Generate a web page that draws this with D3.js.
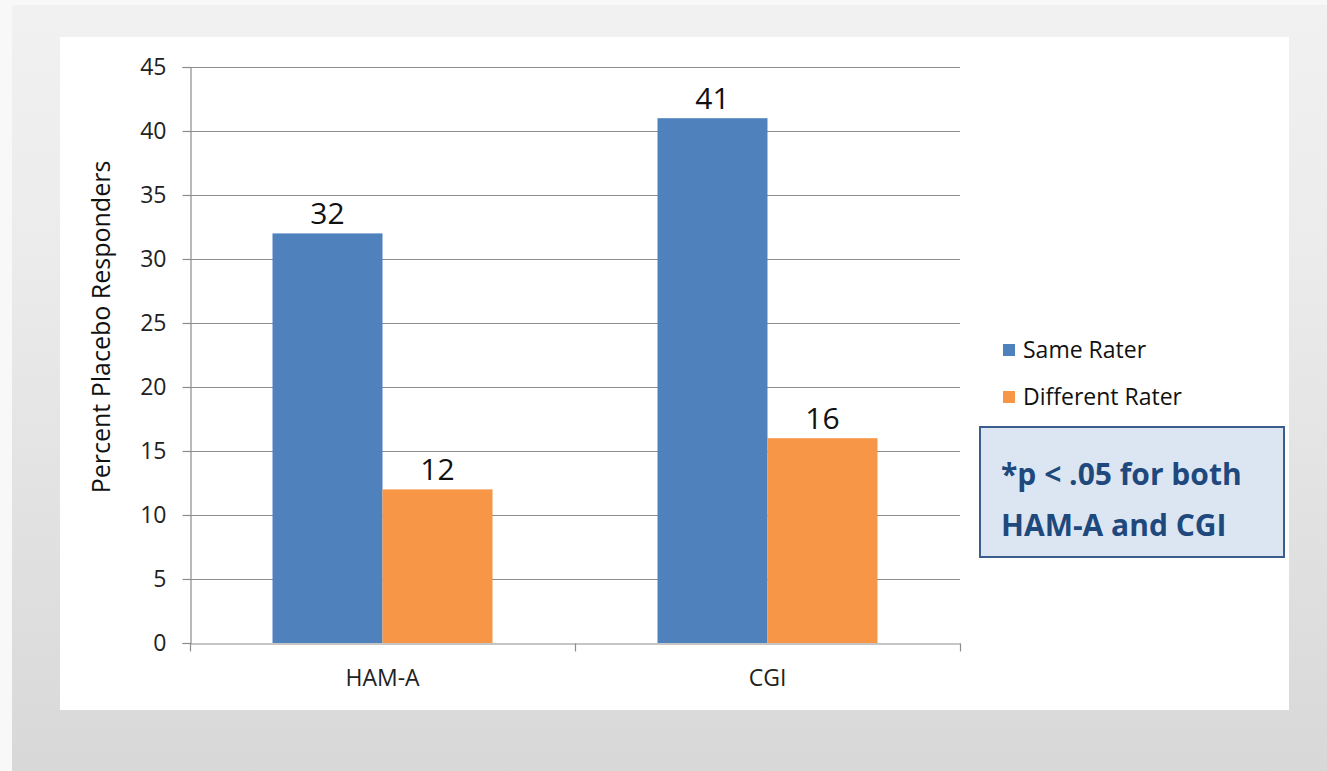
<!DOCTYPE html>
<html>
<head>
<meta charset="utf-8">
<script src="https://cdn.jsdelivr.net/npm/d3@7"></script>
<style>
  html, body { margin: 0; padding: 0; background: #f8f8f8; }
  svg { display: block; }
  text { font-family: "Open Sans", Lato, sans-serif; }
</style>
</head>
<body>
<script>
// Chart data
const categories = ["HAM-A", "CGI"];
const seriesNames = ["Same Rater", "Different Rater"];
const sameRater = [32, 41];
const differentRater = [12, 16];
const yTicks = [0, 5, 10, 15, 20, 25, 30, 35, 40, 45];
const yTitle = "Percent Placebo Responders";
const noteLines = ["*p < .05 for both", "HAM-A and CGI"];

const colors = ["#4f81bd", "#f79646"];
const W = 1327, H = 771;
const FONT = "'Open Sans', Lato, sans-serif";

const svg = d3.select("body").append("svg")
  .attr("width", W).attr("height", H);

// Slide background with a soft vertical gradient
const defs = svg.append("defs");
const grad = defs.append("linearGradient")
  .attr("id", "bg").attr("x1", 0).attr("y1", 0).attr("x2", 0).attr("y2", 1);
grad.append("stop").attr("offset", "0%").attr("stop-color", "#f1f1f1");
grad.append("stop").attr("offset", "30%").attr("stop-color", "#ececec");
grad.append("stop").attr("offset", "100%").attr("stop-color", "#d8d8d8");

svg.append("rect").attr("x", 12).attr("y", 5)
  .attr("width", W - 12).attr("height", H - 5)
  .attr("fill", "url(#bg)");

// White chart panel
svg.append("rect").attr("x", 60).attr("y", 37)
  .attr("width", 1229).attr("height", 673)
  .attr("fill", "#ffffff");

// Plot area
const plot = { left: 190, right: 960, top: 67, bottom: 643 };

const x0 = d3.scaleBand()
  .domain(categories)
  .range([plot.left, plot.right])
  .paddingInner(0).paddingOuter(0);

const x1 = d3.scaleBand()
  .domain(seriesNames)
  .range([0, x0.bandwidth()])
  .paddingInner(0)
  .paddingOuter(0.75);

const y = d3.scaleLinear()
  .domain([0, 45])
  .range([plot.bottom, plot.top]);

const g = svg.append("g");

// Horizontal gridlines
g.append("g").selectAll("line")
  .data(yTicks.filter(d => d > 0))
  .join("line")
  .attr("x1", plot.left).attr("x2", plot.right)
  .attr("y1", d => Math.round(y(d)) + 0.5)
  .attr("y2", d => Math.round(y(d)) + 0.5)
  .attr("stroke", "#8c8c8c").attr("stroke-width", 1.2);

// Y axis
const yAxis = d3.axisLeft(y).tickValues(yTicks).tickSize(8).tickPadding(16)
  .tickFormat(d3.format("d"));
const yg = g.append("g")
  .attr("transform", `translate(${plot.left + 0.5},0)`)
  .call(yAxis);
yg.select(".domain").attr("stroke", "#8c8c8c").attr("stroke-width", 1.2);
yg.selectAll(".tick line").attr("stroke", "#8c8c8c").attr("stroke-width", 1.2);
yg.selectAll(".tick text")
  .attr("font-family", FONT)
  .attr("font-size", 23).attr("fill", "#222");

// Bars
const rows = categories.map((c, i) => ({
  cat: c,
  values: [
    { name: seriesNames[0], v: sameRater[i] },
    { name: seriesNames[1], v: differentRater[i] }
  ]
}));

const groups = g.append("g").selectAll("g")
  .data(rows).join("g")
  .attr("transform", d => `translate(${x0(d.cat)},0)`);

groups.selectAll("rect")
  .data(d => d.values)
  .join("rect")
  .attr("x", d => x1(d.name))
  .attr("y", d => y(d.v))
  .attr("width", x1.bandwidth())
  .attr("height", d => y(0) - y(d.v))
  .attr("fill", (d, i) => colors[i]);

// Value labels
groups.selectAll("text.val")
  .data(d => d.values)
  .join("text")
  .attr("class", "val")
  .attr("x", d => x1(d.name) + x1.bandwidth() / 2)
  .attr("y", d => y(d.v) - 9)
  .attr("text-anchor", "middle")
  .attr("font-size", 30)
  .attr("fill", "#111")
  .text(d => d.v);

// X axis
const xAxis = d3.axisBottom(x0).tickSize(0).tickPadding(26);
const xg = g.append("g")
  .attr("transform", `translate(0,${plot.bottom + 0.5})`)
  .call(xAxis);
xg.select(".domain").attr("stroke", "#8c8c8c").attr("stroke-width", 1.2);
xg.selectAll(".tick text")
  .attr("font-family", FONT)
  .attr("font-size", 23).attr("fill", "#222");

// Category boundary tick marks
const boundaries = [plot.left, ...categories.map(c => x0(c) + x0.bandwidth())];
xg.selectAll("line.bound")
  .data(boundaries).join("line")
  .attr("class", "bound")
  .attr("x1", d => Math.round(d) + 0.5).attr("x2", d => Math.round(d) + 0.5)
  .attr("y1", 0).attr("y2", 8)
  .attr("stroke", "#8c8c8c").attr("stroke-width", 1.2);

// Y axis title
svg.append("text")
  .attr("transform", "translate(110,327) rotate(-90)")
  .attr("text-anchor", "middle")
  .attr("font-size", 25)
  .attr("fill", "#111")
  .text(yTitle);

// Legend
const legend = svg.append("g").attr("transform", "translate(1003,0)");
const legendY = [350, 397];
seriesNames.forEach((name, i) => {
  legend.append("rect")
    .attr("x", 0).attr("y", legendY[i] - 6)
    .attr("width", 12).attr("height", 12)
    .attr("fill", colors[i]);
  legend.append("text")
    .attr("x", 20).attr("y", legendY[i] + 8)
    .attr("font-size", 23).attr("fill", "#111")
    .text(name);
});

// Significance note
svg.append("rect")
  .attr("x", 980).attr("y", 427)
  .attr("width", 304).attr("height", 130)
  .attr("fill", "#dce6f2")
  .attr("stroke", "#3b5e8c").attr("stroke-width", 2);

svg.append("g").selectAll("text")
  .data(noteLines).join("text")
  .attr("x", 1001)
  .attr("y", (d, i) => 485 + i * 51)
  .attr("font-size", 30)
  .attr("font-weight", "bold")
  .attr("fill", "#1f497d")
  .text(d => d);
</script>
</body>
</html>
